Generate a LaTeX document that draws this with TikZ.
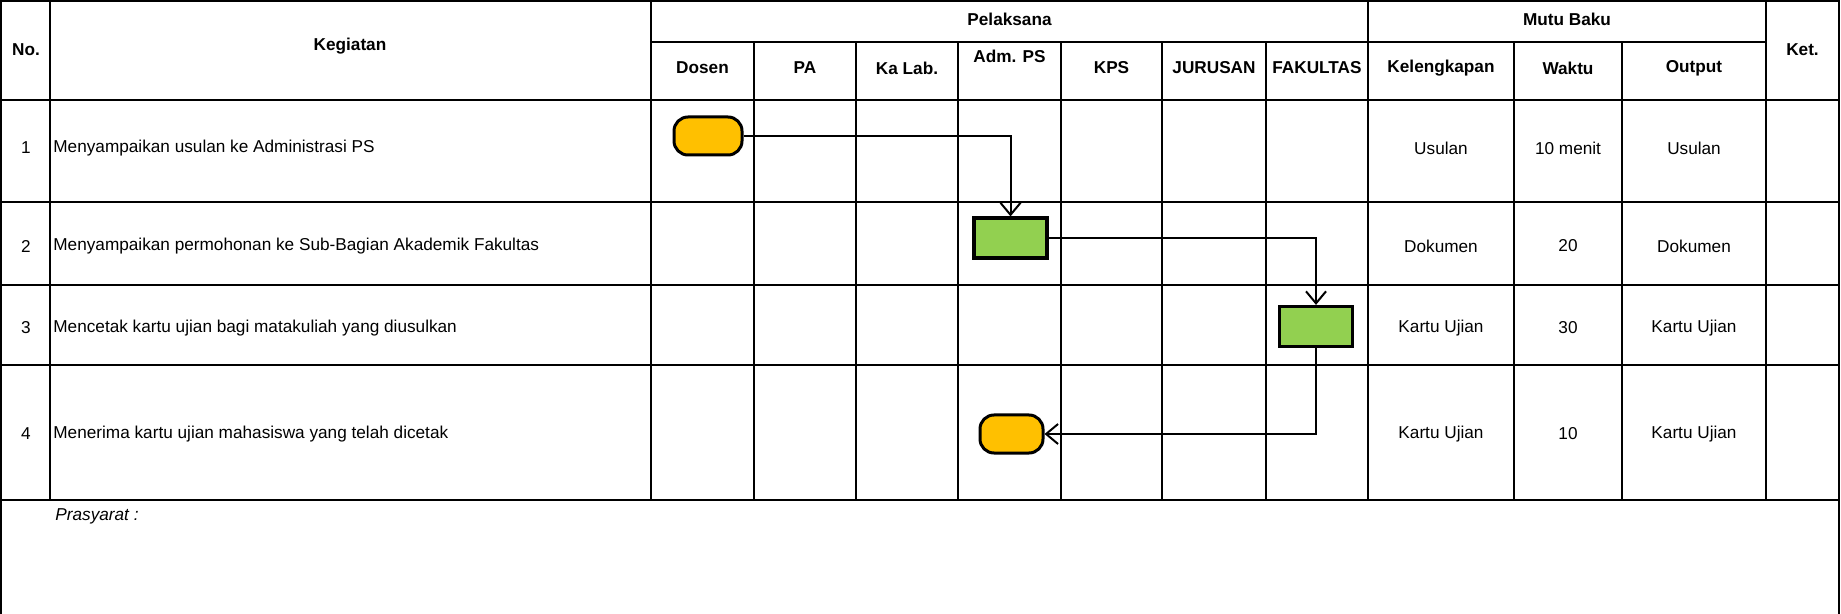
\documentclass[tikz,border=0pt]{standalone}
\usepackage{fontspec}
\setmainfont{Liberation Sans}
\usetikzlibrary{arrows.meta}
\definecolor{termyellow}{HTML}{FFC000}
\definecolor{procgreen}{HTML}{92D050}
\tikzset{
  grid/.style={line width=1.1pt, line cap=rect},
  hdr/.style={font=\fontsize{8.6}{10}\selectfont\bfseries, inner sep=0pt},
  txt/.style={font=\fontsize{8.6}{10}\selectfont, inner sep=0pt},
  terminal/.style={rectangle, rounded corners=7pt, draw, line width=1.5pt, fill=termyellow, minimum height=19pt, inner sep=0pt},
  process/.style={rectangle, draw, line width=1.6pt, fill=procgreen, minimum width=36.5pt, minimum height=20pt, inner sep=0pt},
  flow/.style={line width=1pt, -{Straight Barb[length=6pt,width=10pt,line width=1pt]}}
}
\begin{document}
\begin{tikzpicture}[x=0.5pt,y=-0.5pt]
\useasboundingbox (0,0) rectangle (1841,614);
% horizontal lines
\draw[grid] (1,1) -- (1839,1);
\draw[grid] (651,42) -- (1766,42);
\foreach \yy in {100,202,285,365,500} \draw[grid] (1,\yy) -- (1839,\yy);
% vertical lines
\draw[grid] (1,1) -- (1,614);
\draw[grid] (1839,1) -- (1839,614);
\foreach \xx in {50,651,1368,1766} \draw[grid] (\xx,1) -- (\xx,500);
\foreach \xx in {754,856,958,1061,1162,1266,1514,1622} \draw[grid] (\xx,42) -- (\xx,500);
% header
\node[hdr] (hno) at (26,50) {No.};
\node[hdr] (hkeg) at (350,46) {Kegiatan};
\node[hdr] (hpel) at (1009.5,19) {Pelaksana};
\node[hdr] (hdos) at (702.5,68) {Dosen};
\node[hdr] (hpa) at (805,68) {PA};
\node[hdr] (hkal) at (907,68) {Ka Lab.};
\node[hdr] (hadm) at (1009.5,56) {Adm. PS};
\node[hdr] (hkps) at (1111.5,68) {KPS};
\node[hdr] (hjur) at (1214,68) {JURUSAN};
\node[hdr] (hfak) at (1317,68) {FAKULTAS};
\node[hdr] (hmutu) at (1567,19) {Mutu Baku};
\node[hdr] (hkel) at (1441,68) {Kelengkapan};
\node[hdr] (hwak) at (1568,68) {Waktu};
\node[hdr] (hout) at (1694,68) {Output};
\node[hdr] (hket) at (1802.5,50) {Ket.};
% rows
\node[txt] (n1) at (26,148) {1};
\node[txt] (n2) at (26,246) {2};
\node[txt] (n3) at (26,328) {3};
\node[txt] (n4) at (26,434) {4};
\node[txt,anchor=west] (k1) at (53,148) {Menyampaikan usulan ke Administrasi PS};
\node[txt,anchor=west] (k2) at (53,246) {Menyampaikan permohonan ke Sub-Bagian Akademik Fakultas};
\node[txt,anchor=west] (k3) at (53,328) {Mencetak kartu ujian bagi matakuliah yang diusulkan};
\node[txt,anchor=west] (k4) at (53,434) {Menerima kartu ujian mahasiswa yang telah dicetak};
\node[txt] (kl1) at (1441,148) {Usulan};
\node[txt] (kl2) at (1441,246) {Dokumen};
\node[txt] (kl3) at (1441,328) {Kartu Ujian};
\node[txt] (kl4) at (1441,434) {Kartu Ujian};
\node[txt] (w1) at (1568,148) {10 menit};
\node[txt] (w2) at (1568,246) {20};
\node[txt] (w3) at (1568,328) {30};
\node[txt] (w4) at (1568,434) {10};
\node[txt] (o1) at (1694,148) {Usulan};
\node[txt] (o2) at (1694,246) {Dokumen};
\node[txt] (o3) at (1694,328) {Kartu Ujian};
\node[txt] (o4) at (1694,434) {Kartu Ujian};
\node[txt,anchor=west,font=\fontsize{8.6}{10}\selectfont\itshape] (pras) at (55,516) {Prasyarat :};
% flow shapes
\node[terminal, minimum width=34pt] (y1) at (708,136) {};
\node[process] (g1) at (1010.5,238) {};
\node[process] (g2) at (1316,326.5) {};
\node[terminal, minimum width=31.5pt] (y2) at (1011.5,434) {};
% connectors
\draw[flow] (y1.east) -| (g1.north);
\draw[flow] (g1.east) -| (g2.north);
\draw[flow] (g2.south) |- (y2.east);
\end{tikzpicture}
\end{document}
